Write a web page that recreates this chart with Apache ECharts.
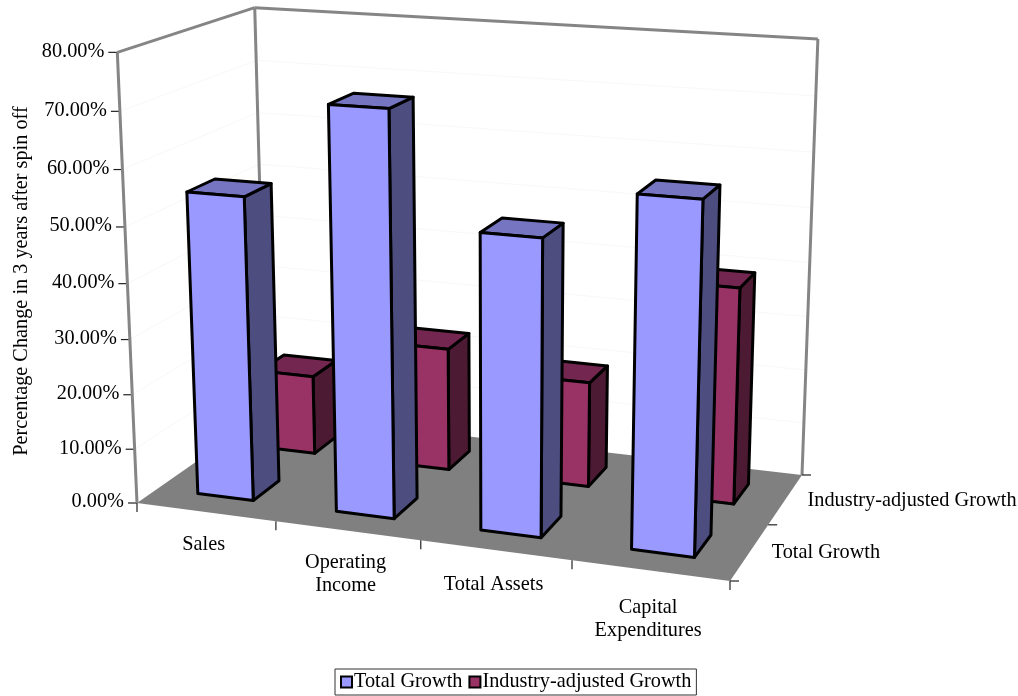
<!DOCTYPE html>
<html>
<head>
<meta charset="utf-8">
<style>html,body{margin:0;padding:0;background:#fff}#chart{width:1018px;height:696px}</style>
<script src="https://cdn.jsdelivr.net/npm/echarts@6/dist/echarts.min.js"></script>
</head>
<body>
<div id="chart"></div>
<script>
// Growth in the three years after a spin off
const categories = ['Sales', 'Operating\nIncome', 'Total Assets', 'Capital\nExpenditures'];
const depthNames = ['Total Growth', 'Industry-adjusted Growth'];
const totalGrowth = [55, 72, 52.3, 60.9];
const industryAdjusted = [15, 23, 19.5, 39.4];
const valueTicks = [0, 10, 20, 30, 40, 50, 60, 70, 80];

const FONT = '"Liberation Serif", "Times New Roman", serif';
const FONT_SIZE = 20.3;
const GAP_SHARE = 0.405;      // column footprint as a share of its slot
const SLOT_SHIFT = -0.003;    // columns sit slightly left of the slot centre
const LABEL_DROP = [21, 21, 23, 26]; // category label distance below the floor edge

// Screen anchors of the plot box: floor corners and wall tops
const floor = { fl: [137, 503], fr: [730, 581], br: [802, 475], bl: [266, 413] };
const tops = { fl: [118, 52], bl: [254, 7], br: [818, 40] };

// Floor homography for (u, v) on the unit square
function floorMatrix(f) {
  const [x0, y0] = f.fl, [x1, y1] = f.fr, [x2, y2] = f.br, [x3, y3] = f.bl;
  const dx1 = x1 - x2, dx2 = x3 - x2, sx = x0 - x1 + x2 - x3;
  const dy1 = y1 - y2, dy2 = y3 - y2, sy = y0 - y1 + y2 - y3;
  const det = dx1 * dy2 - dx2 * dy1;
  const g = (sx * dy2 - dx2 * sy) / det, h = (dx1 * sy - sx * dy1) / det;
  return {
    a: x1 - x0 + g * x1, b: x3 - x0 + h * x3, c: x0,
    d: y1 - y0 + g * y1, e: y3 - y0 + h * y3, f: y0,
    g: g, h: h
  };
}

// Least-squares fit of the vertical column of the projection from the wall tops
function verticalColumn(m) {
  const rows = [], rhs = [];
  [[0, 0, tops.fl], [0, 1, tops.bl], [1, 1, tops.br]].forEach(([u, v, [x, y]]) => {
    const X = m.a * u + m.b * v + m.c, Y = m.d * u + m.e * v + m.f, W = m.g * u + m.h * v + 1;
    rows.push([1, 0, -x]); rhs.push(x * W - X);
    rows.push([0, 1, -y]); rhs.push(y * W - Y);
  });
  const N = [0, 1, 2].map(i => [0, 1, 2].map(j => rows.reduce((s, r) => s + r[i] * r[j], 0)));
  const b = [0, 1, 2].map(i => rows.reduce((s, r, k) => s + r[i] * rhs[k], 0));
  for (let i = 0; i < 3; i++) {
    for (let k = i + 1; k < 3; k++) {
      const t = N[k][i] / N[i][i];
      for (let j = i; j < 3; j++) N[k][j] -= t * N[i][j];
      b[k] -= t * b[i];
    }
  }
  const s = [0, 0, 0];
  for (let i = 2; i >= 0; i--) {
    let acc = b[i];
    for (let j = i + 1; j < 3; j++) acc -= N[i][j] * s[j];
    s[i] = acc / N[i][i];
  }
  return s;
}

const M = floorMatrix(floor);
const V = verticalColumn(M);

function project(u, v, t) {
  const w = M.g * u + M.h * v + 1 + V[2] * t;
  return [(M.a * u + M.b * v + M.c + V[0] * t) / w, (M.d * u + M.e * v + M.f + V[1] * t) / w];
}

function boxPoint(api, cs, catIdx, slotOffset, value) {
  const p = api.coord([catIdx, value]);
  const band = api.size([1, 0])[0];
  return { u: (p[0] + slotOffset * band - cs.x) / cs.width, t: (cs.y + cs.height - p[1]) / cs.height };
}

function poly(points, fill, stroke, lineWidth) {
  return {
    type: 'polygon',
    shape: { points: points },
    style: { fill: fill, stroke: stroke || null, lineWidth: lineWidth || 0, lineJoin: 'round' }
  };
}
function line(a, b, stroke, lineWidth) {
  return {
    type: 'line',
    shape: { x1: a[0], y1: a[1], x2: b[0], y2: b[1] },
    style: { stroke: stroke, lineWidth: lineWidth }
  };
}
function label(text, x, y, align, vAlign) {
  return {
    type: 'text',
    style: {
      text: text, x: x, y: y, fill: '#000', align: align, verticalAlign: vAlign,
      fontFamily: FONT, fontSize: FONT_SIZE, lineHeight: 22.5
    }
  };
}

// Floor, walls, gridlines, ticks and tick labels
function renderFrame(params, api) {
  const cs = params.coordSys;
  const kids = [];
  kids.push(poly([project(0, 0, 0), project(1, 0, 0), project(1, 1, 0), project(0, 1, 0)], '#808080'));
  valueTicks.forEach(val => {
    const t = boxPoint(api, cs, 0, 0, val).t;
    if (val > 0 && val < 80) {
      kids.push(line(project(0, 0, t), project(0, 1, t), '#f8f8f8', 1));
      kids.push(line(project(0, 1, t), project(1, 1, t), '#f8f8f8', 1));
    }
    const p = project(0, 0, t);
    kids.push(line([p[0] - 9, p[1]], p, '#222', 1.2));
    kids.push(label(val.toFixed(2) + '%', p[0] - 13, p[1] - 1, 'right', 'middle'));
  });
  const wall = '#858585';
  kids.push(line(project(0, 0, 0), project(0, 0, 1), wall, 3));
  kids.push(line(project(0, 0, 1), project(0, 1, 1), wall, 3));
  kids.push(line(project(0, 1, 0), project(0, 1, 1), wall, 3));
  kids.push(line(project(0, 1, 1), project(1, 1, 1), wall, 3));
  kids.push(line(project(1, 1, 0), project(1, 1, 1), wall, 3));
  categories.forEach((name, i) => {
    const left = boxPoint(api, cs, i, -0.5, 0).u;
    const p = project(left, 0, 0);
    kids.push(line(p, [p[0], p[1] + 9], '#222', 1.2));
    const mid = project(boxPoint(api, cs, i, 0, 0).u, 0, 0);
    kids.push(label(name, mid[0] - 2, mid[1] + LABEL_DROP[i], 'center', 'top'));
  });
  const end = project(1, 0, 0);
  kids.push(line(end, [end[0], end[1] + 9], '#222', 1.2));
  [0, 0.5, 1].forEach(v => {
    const p = project(1, v, 0);
    kids.push(line(p, [p[0] + 9, p[1]], '#222', 1.2));
  });
  depthNames.forEach((name, i) => {
    const p = project(1, (i + 0.5) / 2, 0);
    kids.push(label(name, p[0] + 22, p[1] + 1, 'left', 'middle'));
  });
  return { type: 'group', children: kids };
}

// One column as front, top and right faces
function columnRenderer(depthIdx, faces) {
  return function (params, api) {
    const cs = params.coordSys;
    const cat = api.value(0), val = api.value(1);
    const half = GAP_SHARE / 2;
    const v0 = (depthIdx + 0.5 - half) / 2, v1 = (depthIdx + 0.5 + half) / 2;
    const a = boxPoint(api, cs, cat, SLOT_SHIFT - half, 0).u, b = boxPoint(api, cs, cat, SLOT_SHIFT + half, 0).u;
    const t = boxPoint(api, cs, cat, 0, val).t;
    const edge = '#000', lw = 3;
    return {
      type: 'group',
      children: [
        poly([project(b, v0, 0), project(b, v1, 0), project(b, v1, t), project(b, v0, t)], faces.side, edge, lw),
        poly([project(a, v0, t), project(b, v0, t), project(b, v1, t), project(a, v1, t)], faces.top, edge, lw),
        poly([project(a, v0, 0), project(b, v0, 0), project(b, v0, t), project(a, v0, t)], faces.front, edge, lw)
      ]
    };
  };
}

const frontFaces = { front: '#9999ff', side: '#4d4d80', top: '#7575c2' };
const backFaces = { front: '#993366', side: '#4d1a33', top: '#732650' };

const chart = echarts.init(document.getElementById('chart'), null, { renderer: 'canvas' });
chart.setOption({
  animation: false,
  backgroundColor: '#fff',
  grid: { left: 137, top: 52, width: 593, height: 451 },
  xAxis: { type: 'category', data: categories, show: false },
  yAxis: { type: 'value', min: 0, max: 80, interval: 10, show: false },
  legend: {
    data: ['Total Growth', 'Industry-adjusted Growth'],
    left: 335, top: 669,
    padding: [3, 5, 3, 5],
    itemGap: 6, itemWidth: 11, itemHeight: 11,
    selectedMode: false,
    icon: 'rect',
    backgroundColor: '#fff',
    borderColor: '#333', borderWidth: 1,
    textStyle: { fontFamily: FONT, fontSize: FONT_SIZE, color: '#000', padding: [0, 0, 0, -3] },
    itemStyle: { borderColor: '#000', borderWidth: 2 }
  },
  graphic: [{
    type: 'text', rotation: Math.PI / 2, x: 22, y: 281,
    style: {
      text: 'Percentage Change in 3 years after spin off', fill: '#000',
      fontFamily: FONT, fontSize: FONT_SIZE, align: 'center', verticalAlign: 'middle'
    }
  }],
  series: [
    { type: 'custom', name: 'frame', z: 1, silent: true, clip: false, data: [[0, 0]], renderItem: renderFrame },
    {
      type: 'custom', name: 'Industry-adjusted Growth', z: 2, clip: false,
      itemStyle: { color: backFaces.front },
      data: industryAdjusted.map((v, i) => [i, v]), encode: { x: 0, y: 1 },
      renderItem: columnRenderer(1, backFaces)
    },
    {
      type: 'custom', name: 'Total Growth', z: 3, clip: false,
      itemStyle: { color: frontFaces.front },
      data: totalGrowth.map((v, i) => [i, v]), encode: { x: 0, y: 1 },
      renderItem: columnRenderer(0, frontFaces)
    }
  ]
});
</script>
</body>
</html>
